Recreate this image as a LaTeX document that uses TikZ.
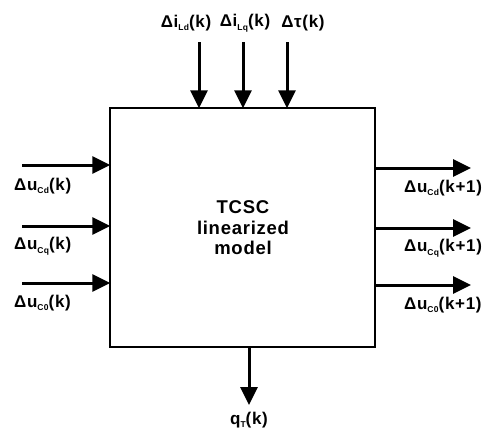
\documentclass[tikz,border=0pt]{standalone}
\usepackage{fontspec}
\setmainfont{Liberation Sans}[LetterSpace=4]
\usetikzlibrary{arrows.meta}
\newcommand\sbs[1]{\raisebox{-0.4ex}{\fontsize{8.5}{10}\selectfont #1}}
\begin{document}
\begin{tikzpicture}[x=1pt,y=-1pt,
  lab/.style={font=\fontsize{17}{19}\selectfont\bfseries, inner sep=0pt},
  sig/.style={line width=3pt, -{Triangle[length=18pt,width=17pt]}, shorten >=-1pt},
  blk/.style={draw, line width=1.4pt, minimum width=265pt, minimum height=239pt, inner sep=0pt}]
\useasboundingbox (0,0) rectangle (491,432);
\node[blk] (m) at (242.5,227.5) {};
\node[lab, align=center, font=\fontsize{18.5}{20.5}\selectfont\bfseries] (t) at (243,228) {TCSC\\linearized\\model};
% top inputs
\coordinate (a1) at (199,42);
\coordinate (a2) at (243,42);
\coordinate (a3) at (287,42);
\draw[sig] (a1) -- (a1 |- m.north);
\draw[sig] (a2) -- (a2 |- m.north);
\draw[sig] (a3) -- (a3 |- m.north);
\node[lab] (la1) at (186,23) {Δi\sbs{Ld}(k)};
\node[lab] (la2) at (245,23) {Δi\sbs{Lq}(k)};
\node[lab] (la3) at (303,23) {Δτ(k)};
% left inputs
\coordinate (b1) at (22,165);
\coordinate (b2) at (22,226);
\coordinate (b3) at (22,283);
\draw[sig] (b1) -- (b1 -| m.west);
\draw[sig] (b2) -- (b2 -| m.west);
\draw[sig] (b3) -- (b3 -| m.west);
\node[lab, anchor=west] (lb1) at (14,186) {Δu\sbs{Cd}(k)};
\node[lab, anchor=west] (lb2) at (14,246) {Δu\sbs{Cq}(k)};
\node[lab, anchor=west] (lb3) at (14,303) {Δu\sbs{C0}(k)};
% right outputs
\coordinate (c1) at (470,168);
\coordinate (c2) at (470,228);
\coordinate (c3) at (470,285);
\draw[sig] (c1 -| m.east) -- (c1);
\draw[sig] (c2 -| m.east) -- (c2);
\draw[sig] (c3 -| m.east) -- (c3);
\node[lab, anchor=west] (lc1) at (404,188) {Δu\sbs{Cd}(k+1)};
\node[lab, anchor=west] (lc2) at (404,248) {Δu\sbs{Cq}(k+1)};
\node[lab, anchor=west] (lc3) at (404,305) {Δu\sbs{C0}(k+1)};
% bottom output
\coordinate (d1) at (249,404);
\draw[sig] (d1 |- m.south) -- (d1);
\node[lab] (ld1) at (249,420) {q\sbs{T}(k)};
\end{tikzpicture}
\end{document}
